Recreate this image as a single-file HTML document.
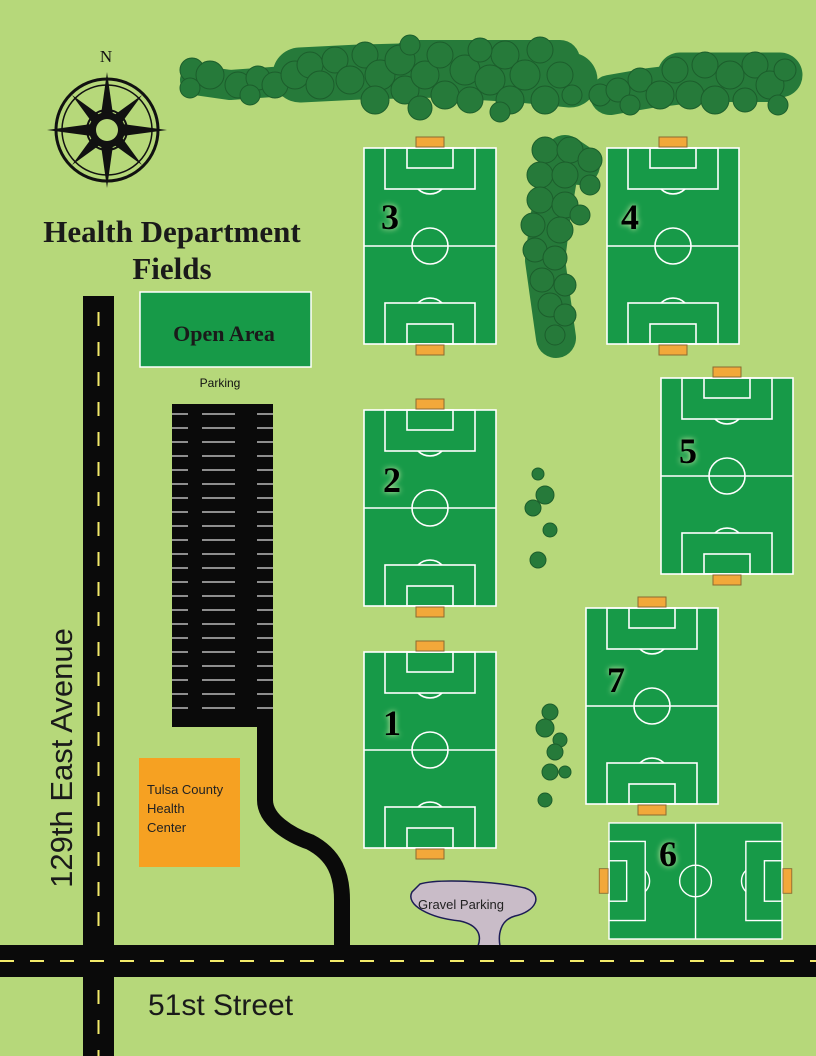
<!DOCTYPE html>
<html><head><meta charset="utf-8"><style>
html,body{margin:0;padding:0;background:#b6d87a;}
svg{display:block}
</style></head><body>
<svg width="816" height="1056" viewBox="0 0 816 1056" xmlns="http://www.w3.org/2000/svg">
<defs>
<symbol id="f" overflow="visible">
<rect x="0" y="0" width="132" height="196" fill="#179a48" stroke="#fff" stroke-width="1.6"/>
<g fill="none" stroke="#fff" stroke-width="1.6">
<line x1="0" y1="98" x2="132" y2="98"/>
<circle cx="66" cy="98" r="18"/>
<rect x="21" y="0" width="90" height="41"/>
<rect x="43" y="0" width="46" height="20"/>
<path d="M54 41 A17 17 0 0 0 78 41"/>
<rect x="21" y="155" width="90" height="41"/>
<rect x="43" y="176" width="46" height="20"/>
<path d="M54 155 A17 17 0 0 1 78 155"/>
</g>
<rect x="52" y="-11" width="28" height="10" fill="#f2a83a" stroke="#8a6a30" stroke-width="1"/>
<rect x="52" y="197" width="28" height="10" fill="#f2a83a" stroke="#8a6a30" stroke-width="1"/>
</symbol>
<filter id="gl" x="-50%" y="-50%" width="200%" height="200%"><feGaussianBlur stdDeviation="3"/></filter>
</defs>

<!-- trees: base masses -->
<g fill="none" stroke="#267a3a" stroke-linecap="round" stroke-linejoin="round">
<path d="M195 80 L230 85 L300 80" stroke-width="30"/>
<path d="M300 75 L360 72 L440 70 L520 75 L570 80" stroke-width="55"/>
<path d="M410 60 L560 60" stroke-width="40"/>
<path d="M610 95 L650 88 L700 82 L770 82" stroke-width="40"/>
<path d="M680 75 L780 75" stroke-width="45"/>
<path d="M565 155 L580 165 M560 160 L550 220 L545 260 L552 310 L556 338" stroke-width="40"/>
</g>
<g fill="#267a3a" stroke="#1c5e2c" stroke-width="1">
<circle cx="192" cy="70" r="12"/><circle cx="210" cy="75" r="14"/><circle cx="190" cy="88" r="10"/>
<circle cx="238" cy="85" r="13"/><circle cx="258" cy="78" r="12"/><circle cx="250" cy="95" r="10"/><circle cx="275" cy="85" r="13"/>
<circle cx="295" cy="75" r="14"/><circle cx="310" cy="65" r="13"/><circle cx="320" cy="85" r="14"/><circle cx="335" cy="60" r="13"/>
<circle cx="350" cy="80" r="14"/><circle cx="365" cy="55" r="13"/><circle cx="380" cy="75" r="15"/><circle cx="375" cy="100" r="14"/>
<circle cx="400" cy="60" r="15"/><circle cx="405" cy="90" r="14"/><circle cx="425" cy="75" r="14"/><circle cx="440" cy="55" r="13"/>
<circle cx="445" cy="95" r="14"/><circle cx="465" cy="70" r="15"/><circle cx="470" cy="100" r="13"/><circle cx="490" cy="80" r="15"/>
<circle cx="505" cy="55" r="14"/><circle cx="510" cy="100" r="14"/><circle cx="525" cy="75" r="15"/><circle cx="540" cy="50" r="13"/>
<circle cx="545" cy="100" r="14"/><circle cx="560" cy="75" r="13"/><circle cx="572" cy="95" r="10"/>
<circle cx="410" cy="45" r="10"/><circle cx="480" cy="50" r="12"/><circle cx="420" cy="108" r="12"/><circle cx="500" cy="112" r="10"/>
<circle cx="600" cy="95" r="11"/><circle cx="618" cy="90" r="12"/><circle cx="630" cy="105" r="10"/><circle cx="640" cy="80" r="12"/>
<circle cx="660" cy="95" r="14"/><circle cx="675" cy="70" r="13"/><circle cx="690" cy="95" r="14"/><circle cx="705" cy="65" r="13"/>
<circle cx="715" cy="100" r="14"/><circle cx="730" cy="75" r="14"/><circle cx="745" cy="100" r="12"/><circle cx="755" cy="65" r="13"/>
<circle cx="770" cy="85" r="14"/><circle cx="785" cy="70" r="11"/><circle cx="778" cy="105" r="10"/>
<circle cx="545" cy="150" r="13"/><circle cx="570" cy="150" r="13"/><circle cx="590" cy="160" r="12"/><circle cx="540" cy="175" r="13"/>
<circle cx="565" cy="175" r="13"/><circle cx="590" cy="185" r="10"/><circle cx="540" cy="200" r="13"/><circle cx="565" cy="205" r="13"/>
<circle cx="533" cy="225" r="12"/><circle cx="560" cy="230" r="13"/><circle cx="580" cy="215" r="10"/><circle cx="535" cy="250" r="12"/>
<circle cx="555" cy="258" r="12"/><circle cx="542" cy="280" r="12"/><circle cx="565" cy="285" r="11"/><circle cx="550" cy="305" r="12"/>
<circle cx="565" cy="315" r="11"/><circle cx="555" cy="335" r="10"/>
<circle cx="538" cy="474" r="6"/><circle cx="545" cy="495" r="9"/><circle cx="533" cy="508" r="8"/><circle cx="550" cy="530" r="7"/><circle cx="538" cy="560" r="8"/>
<circle cx="550" cy="712" r="8"/><circle cx="545" cy="728" r="9"/><circle cx="560" cy="740" r="7"/><circle cx="555" cy="752" r="8"/>
<circle cx="550" cy="772" r="8"/><circle cx="565" cy="772" r="6"/><circle cx="545" cy="800" r="7"/>
</g>

<!-- compass -->
<text x="106" y="62" font-family="Liberation Serif,serif" font-size="17" text-anchor="middle" fill="#111">N</text>
<g stroke="#111" fill="none">
<circle cx="107" cy="130" r="51" stroke-width="3"/>
<circle cx="107" cy="130" r="45" stroke-width="1.5"/>
<circle cx="107" cy="130" r="20" stroke-width="2"/>
<circle cx="107" cy="130" r="12" stroke-width="2"/>
</g>
<g fill="#111">
<polygon points="107,72 114,122 107,130 100,122"/>
<polygon points="107,188 114,138 107,130 100,138"/>
<polygon points="47,130 99,123 107,130 99,137"/>
<polygon points="167,130 115,123 107,130 115,137"/>
<polygon points="72,95 112,124 107,130 102,136"/>
<polygon points="142,95 102,124 107,130 112,136"/>
<polygon points="72,165 112,136 107,130 102,124"/>
<polygon points="142,165 102,136 107,130 112,124"/>
</g>
<circle cx="107" cy="130" r="18" fill="#111"/>
<circle cx="107" cy="130" r="11" fill="#b6d87a"/>

<text x="172" y="242" font-family="Liberation Serif,serif" font-weight="bold" font-size="31" text-anchor="middle" fill="#1a1a1a">Health Department</text>
<text x="172" y="279" font-family="Liberation Serif,serif" font-weight="bold" font-size="31" text-anchor="middle" fill="#1a1a1a">Fields</text>

<rect x="140" y="292" width="171" height="75" fill="#179a48" stroke="#fff" stroke-width="1.5"/>
<text x="224" y="341" font-family="Liberation Serif,serif" font-weight="bold" font-size="22" text-anchor="middle" fill="#1a1a1a">Open Area</text>
<text x="220" y="387" font-family="Liberation Sans,sans-serif" font-size="12" text-anchor="middle" fill="#111">Parking</text>

<!-- parking lot -->
<rect x="172" y="404" width="101" height="323" fill="#0a0a0a"/>
<g stroke="#ddd" stroke-width="1.3">
<path d="M172 414h16M202 414h33M257 414h16 M172 428h16M202 428h33M257 428h16 M172 442h16M202 442h33M257 442h16 M172 456h16M202 456h33M257 456h16 M172 470h16M202 470h33M257 470h16 M172 484h16M202 484h33M257 484h16 M172 498h16M202 498h33M257 498h16 M172 512h16M202 512h33M257 512h16 M172 526h16M202 526h33M257 526h16 M172 540h16M202 540h33M257 540h16 M172 554h16M202 554h33M257 554h16 M172 568h16M202 568h33M257 568h16 M172 582h16M202 582h33M257 582h16 M172 596h16M202 596h33M257 596h16 M172 610h16M202 610h33M257 610h16 M172 624h16M202 624h33M257 624h16 M172 638h16M202 638h33M257 638h16 M172 652h16M202 652h33M257 652h16 M172 666h16M202 666h33M257 666h16 M172 680h16M202 680h33M257 680h16 M172 694h16M202 694h33M257 694h16 M172 708h16M202 708h33M257 708h16"/>
</g>
<path d="M265 720 V800 C265 820 290 835 310 842 C335 855 342 875 342 900 V950" fill="none" stroke="#0a0a0a" stroke-width="16"/>

<rect x="139" y="758" width="101" height="109" fill="#f6a122"/>
<text x="147" y="794" font-family="Liberation Sans,sans-serif" font-size="13" fill="#222">Tulsa County</text>
<text x="147" y="813" font-family="Liberation Sans,sans-serif" font-size="13" fill="#222">Health</text>
<text x="147" y="832" font-family="Liberation Sans,sans-serif" font-size="13" fill="#222">Center</text>

<!-- gravel -->
<path d="M420 884 C440 878 500 882 525 888 C545 895 535 912 515 916 C500 920 498 935 500 946 L478 946 C482 935 478 925 460 921 C430 918 405 905 412 892 Z" fill="#c9bcc8" stroke="#1c1c55" stroke-width="1.5"/>
<text x="418" y="909" font-family="Liberation Sans,sans-serif" font-size="13" fill="#222">Gravel Parking</text>

<!-- roads -->
<rect x="83" y="296" width="31" height="760" fill="#0a0a0a"/>
<rect x="0" y="945" width="816" height="32" fill="#0a0a0a"/>
<line x1="98.5" y1="312" x2="98.5" y2="940" stroke="#f3ea6a" stroke-width="2" stroke-dasharray="14,16"/>
<line x1="98.5" y1="990" x2="98.5" y2="1056" stroke="#f3ea6a" stroke-width="2" stroke-dasharray="14,16"/>
<line x1="0" y1="961" x2="816" y2="961" stroke="#f3ea6a" stroke-width="2" stroke-dasharray="14,16"/>

<text transform="translate(72,758) rotate(-90)" font-family="Liberation Sans,sans-serif" font-size="31" text-anchor="middle" fill="#1a1a1a">129th East Avenue</text>
<text x="148" y="1015" font-family="Liberation Sans,sans-serif" font-size="30" fill="#1a1a1a">51st Street</text>

<!-- fields -->
<use href="#f" transform="translate(364,148)"/>
<use href="#f" transform="translate(607,148)"/>
<use href="#f" transform="translate(661,378)"/>
<use href="#f" transform="translate(364,410)"/>
<use href="#f" transform="translate(364,652)"/>
<use href="#f" transform="translate(586,608)"/>
<use href="#f" transform="translate(609,939) rotate(-90) scale(0.879,0.883)"/>

<g font-family="Liberation Serif,serif" font-weight="bold" font-size="36" text-anchor="middle">
<g fill="#d8f0b0" filter="url(#gl)">
<text x="390" y="229">3</text><text x="630" y="229">4</text><text x="688" y="463">5</text>
<text x="392" y="492">2</text><text x="392" y="735">1</text><text x="616" y="692">7</text><text x="668" y="866">6</text>
</g>
<g fill="#000">
<text x="390" y="229">3</text><text x="630" y="229">4</text><text x="688" y="463">5</text>
<text x="392" y="492">2</text><text x="392" y="735">1</text><text x="616" y="692">7</text><text x="668" y="866">6</text>
</g>
</g>
</svg>
</body></html>
